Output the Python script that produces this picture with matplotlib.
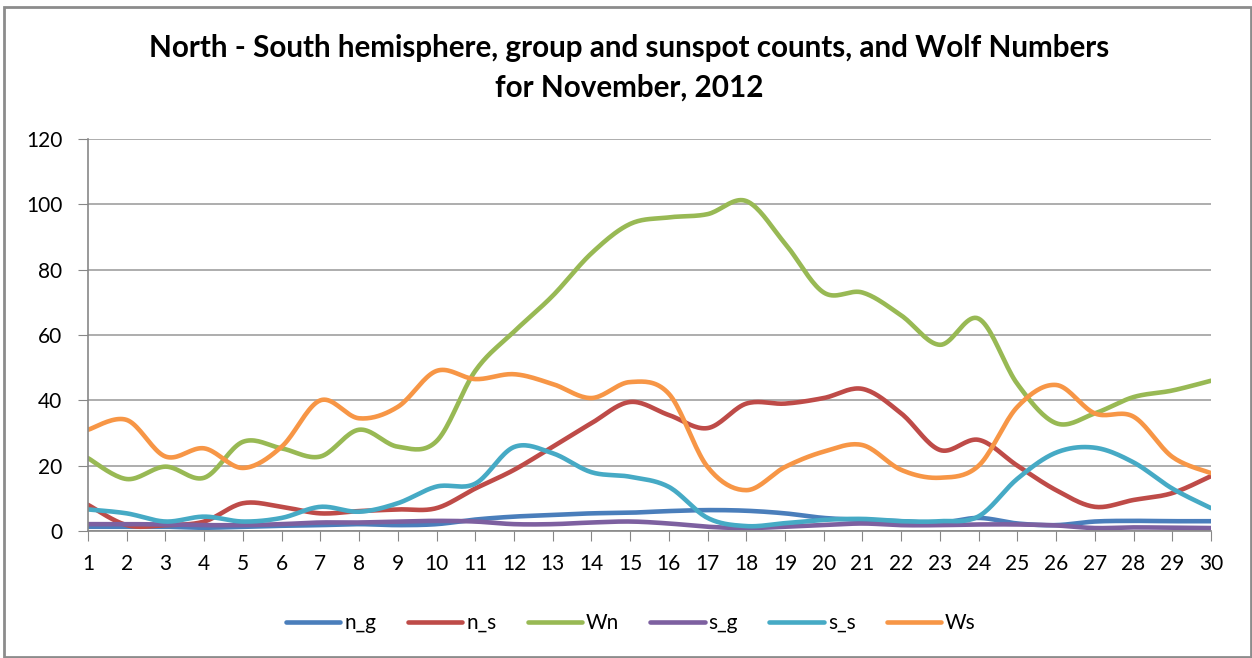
import numpy as np
import matplotlib
matplotlib.use("Agg")
import matplotlib.pyplot as plt
from matplotlib.patches import Rectangle

days = list(range(1, 31))
n_g = [1.3, 1.3, 1.3, 1.0, 1.3, 1.6, 1.8, 2.1, 1.8, 2.1, 3.5, 4.4, 4.9, 5.4, 5.6,
       6.1, 6.4, 6.2, 5.4, 4.0, 3.4, 3.0, 2.5, 4.0, 2.3, 1.8, 2.9, 3.1, 3.0, 3.0]
n_s = [8, 1.8, 1.8, 2.9, 8.5, 7.4, 5.4, 6.1, 6.6, 7, 13, 18.7, 25.8, 33, 39.5,
       35.5, 31.5, 39, 39, 40.7, 43.5, 36, 24.8, 27.9, 20, 12.5, 7.4, 9.5, 11.6, 16.8]
Wn = [22.3, 15.9, 19.7, 16.3, 27.3, 25.3, 22.8, 31, 25.8, 27.5, 49, 61, 72, 85, 94,
      96, 97, 101, 88, 73, 73, 66, 57, 65, 45, 33, 36, 41, 43, 46]
s_g = [2.1, 2.1, 2.0, 1.8, 1.8, 2.1, 2.6, 2.6, 2.9, 3.1, 2.9, 2.1, 2.1, 2.6, 2.9,
       2.3, 1.3, 0.9, 1.3, 1.8, 2.3, 1.8, 1.8, 2.0, 2.0, 1.7, 0.9, 1.1, 1.0, 0.9]
s_s = [6.6, 5.4, 2.9, 4.4, 2.9, 4.0, 7.4, 5.9, 8.5, 13.6, 14.5, 25.7, 23.8, 18, 16.6,
       13.5, 4.0, 1.5, 2.4, 3.4, 3.7, 3.0, 3.0, 4.5, 16, 24, 25.5, 21, 13, 7]
Ws = [31, 34, 22.8, 25.3, 19.3, 25.8, 40, 34.5, 38, 49, 46.5, 48, 45, 40.7, 45.6,
      42, 19.6, 12.5, 19.6, 24.3, 26.3, 18.7, 16.3, 20, 38, 44.7, 36, 35, 22.7, 17.7]

series = [("n_g", n_g, "#4A7EBB"), ("n_s", n_s, "#BE4B48"), ("Wn", Wn, "#98B954"),
          ("s_g", s_g, "#7D60A0"), ("s_s", s_s, "#46AAC5"), ("Ws", Ws, "#F79646")]

title_lines = ["North - South hemisphere, group and sunspot counts, and Wolf Numbers",
               "for November, 2012"]


def smooth(x, y, n=20):
    x = np.asarray(x, float)
    y = np.asarray(y, float)
    xs, ys = [], []
    px = np.concatenate([[x[0]], x, [x[-1]]])
    py = np.concatenate([[y[0]], y, [y[-1]]])
    t = np.linspace(0, 1, n, endpoint=False)
    for i in range(1, len(px) - 2):
        p0, p1, p2, p3 = (np.array([px[j], py[j]]) for j in (i - 1, i, i + 1, i + 2))
        c1 = p1 + (p2 - p0) / 6.0
        c2 = p2 - (p3 - p1) / 6.0
        tt = t[:, None]
        pts = ((1 - tt) ** 3) * p1 + 3 * ((1 - tt) ** 2) * tt * c1 + 3 * (1 - tt) * tt ** 2 * c2 + tt ** 3 * p2
        xs.extend(pts[:, 0]); ys.extend(pts[:, 1])
    xs.append(x[-1]); ys.append(y[-1])
    return np.array(xs), np.array(ys)


plt.rcParams['font.family'] = ['Lato', 'DejaVu Sans']
W, H = 1252, 658
fig = plt.figure(figsize=(W / 100, H / 100), dpi=100)
fig.patches.append(Rectangle((4 / W, 1 / H), (1251 - 4) / W, (650) / H,
                             transform=fig.transFigure, fill=False,
                             edgecolor="#8C8C8C", linewidth=2.0))
ax = fig.add_axes([88 / W, (H - 531) / H, (1211 - 88) / W, (531 - 139) / H])

for name, vals, col in series:
    sx, sy = smooth(days, vals)
    ax.plot(sx, sy, color=col, lw=3.3, label=name, solid_capstyle="round")

ax.set_xlim(1, 30)
ax.set_ylim(0, 120)
ax.set_yticks(range(0, 121, 20))
ax.set_xticks(days)
ax.set_xticklabels([str(d) for d in days])
ax.yaxis.grid(True, color="#A0A0A0", lw=1.2)
ax.set_axisbelow(True)
for s in ("top", "right"):
    ax.spines[s].set_visible(False)
ax.spines["left"].set_color("#878787")
ax.spines["bottom"].set_color("#878787")
ax.spines["left"].set_linewidth(1.2)
ax.spines["bottom"].set_linewidth(1.2)
ax.tick_params(axis="y", length=7.5, color="#878787", labelsize=15, pad=11)
ax.tick_params(axis="x", length=7.5, color="#878787", labelsize=15, pad=9)

# title: two lines, sized so the first line spans the reference width
t1 = fig.text(629 / W, 1 - 56.5 / H, title_lines[0], ha="center", va="baseline",
              fontsize=20, fontweight="bold")
fig.canvas.draw()
w1 = t1.get_window_extent().width
fs = 20 * 962 / w1
t1.set_fontsize(fs)
fig.text(629 / W, 1 - 96.5 / H, title_lines[1], ha="center", va="baseline",
         fontsize=fs, fontweight="bold")

leg = fig.legend(loc="center", bbox_to_anchor=(631 / W, 1 - 623 / H), ncol=6,
                 frameon=False, fontsize=15, handlelength=2.6, columnspacing=1.5,
                 handletextpad=0.2)
for l in leg.get_lines():
    l.set_linewidth(3.3)

fig.savefig("out.png", dpi=100)
